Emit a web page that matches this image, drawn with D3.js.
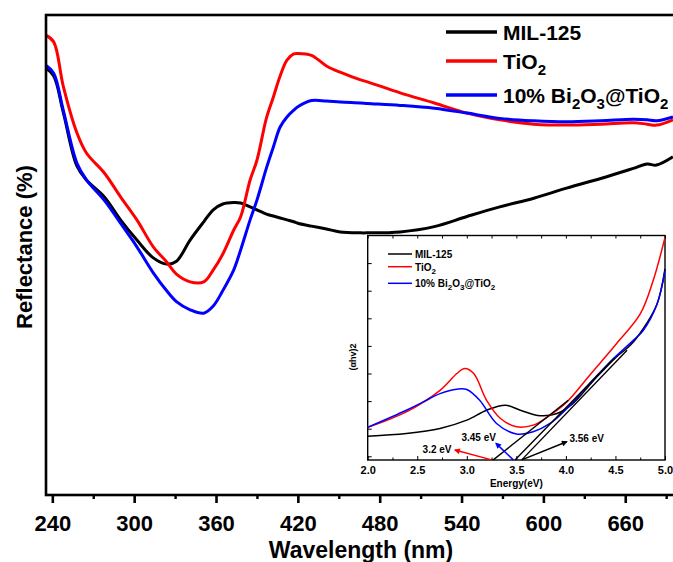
<!DOCTYPE html>
<html>
<head>
<meta charset="utf-8">
<script src="https://cdn.jsdelivr.net/npm/d3@7"></script>
<style>
  body { margin: 0; background: #fff; }
  text { font-family: "Liberation Sans", Arial, sans-serif; font-weight: bold; fill: #000; }
</style>
</head>
<body>
<div id="d3-container"></div>
<script>
// Main chart data (reflectance, arbitrary units)
const wavelength = [235, 241, 248, 258, 265, 278, 290, 302, 314, 324, 331, 341, 351, 358, 365, 373, 378, 385, 390, 397,
  402, 407, 412, 417, 420, 430, 441, 451, 466, 471, 495, 520, 544, 568, 593, 617, 642, 666, 676, 683, 695];
const milRefl = [88.8, 87.1, 79.6, 68.4, 65.5, 62.0, 57.2, 53.0, 49.3, 48.0, 48.6, 53.0, 56.8, 59.3, 60.5, 60.8, 60.7, 59.9, 59.3, 58.4,
  58.0, 57.6, 57.2, 56.8, 56.5, 55.9, 55.3, 54.7, 54.5, 54.5, 54.7, 55.8, 57.9, 59.9, 61.7, 63.8, 65.8, 67.9, 68.8, 68.6, 70.3];
const tio2Refl = [95.6, 94.2, 85.0, 75.3, 71.1, 67.0, 62.0, 57.2, 51.6, 48.4, 45.9, 44.3, 44.3, 46.8, 50.1, 55.1, 57.8, 65.5, 69.6, 78.4,
  82.7, 87.1, 90.4, 91.7, 91.8, 91.4, 89.2, 87.9, 86.3, 85.9, 83.6, 81.5, 79.4, 78.0, 77.1, 76.9, 77.1, 77.4, 77.1, 76.9, 78.0];
const biRefl = [89.4, 87.7, 80.0, 69.0, 65.5, 61.3, 56.5, 51.6, 46.2, 42.4, 40.2, 38.5, 37.8, 39.3, 42.5, 46.8, 50.9, 57.2, 61.3, 68.0,
  72.3, 76.5, 78.6, 80.0, 80.7, 82.0, 81.9, 81.7, 81.5, 81.4, 81.0, 80.4, 79.4, 78.3, 77.8, 77.6, 77.8, 78.1, 78.0, 77.8, 78.6];
const xTicks = [240, 300, 360, 420, 480, 540, 600, 660];
const xMinorTicks = [270, 330, 390, 450, 510, 570, 630, 690];

// Inset data: (ahv)^2 vs energy
const milEnergy = [2.00, 2.39, 2.73, 3.00, 3.20, 3.39, 3.54, 3.74, 3.91, 4.07, 4.28, 4.51, 4.65, 4.78, 4.92, 5.00];
const milAbs = [0.73, 0.83, 1.01, 1.31, 1.67, 1.85, 1.67, 1.47, 1.55, 1.91, 2.75, 3.60, 4.02, 4.62, 5.52, 6.79];
const tio2Energy = [2.00, 2.39, 2.73, 2.90, 2.98, 3.07, 3.20, 3.34, 3.50, 3.67, 3.84, 4.01, 4.24, 4.51, 4.75, 4.88, 5.00];
const tio2Abs = [1.05, 1.61, 2.39, 3.00, 3.18, 3.00, 2.03, 1.37, 1.07, 1.13, 1.49, 1.97, 2.94, 4.08, 5.16, 6.36, 7.93];
const biEnergy = [2.00, 2.39, 2.56, 2.73, 2.90, 3.00, 3.13, 3.30, 3.50, 3.67, 3.84, 4.01, 4.24, 4.48, 4.68, 4.78, 4.92, 5.00];
const biAbs = [1.05, 1.67, 1.97, 2.27, 2.43, 2.42, 2.03, 1.19, 0.81, 0.89, 1.19, 1.73, 2.64, 3.54, 4.20, 4.56, 5.52, 6.73];
const insetXTicks = [2.0, 2.5, 3.0, 3.5, 4.0, 4.5, 5.0];
const insetYTicks = [0, 1, 2, 3, 4, 5, 6, 7];

// Tangent lines and band gap annotations
const tangents = [
  { x1: 3.267, y1: -0.13, x2: 4.024, y2: 2.03 },
  { x1: 3.486, y1: -0.13, x2: 4.495, y2: 3.58 },
  { x1: 3.554, y1: -0.13, x2: 4.617, y2: 3.84 }
];
const gapLabels = ["3.2 eV", "3.45 eV", "3.56 eV"];
const gapArrows = [
  { x1: 3.251, y1: -0.13, x2: 2.881, y2: 0.227, color: "#ff0000", tx: 2.70, ty: 0.26 },
  { x1: 3.469, y1: -0.13, x2: 3.295, y2: 0.469, color: "#0000ff", tx: 3.12, ty: 0.70 },
  { x1: 3.554, y1: -0.13, x2: 4.008, y2: 0.527, color: "#000000", tx: 4.21, ty: 0.66 }
];

const width = 673;
const height = 562;

const svg = d3
  .select("#d3-container")
  .append("svg")
  .attr("width", width)
  .attr("height", height);

const defs = svg.append("defs");
["#ff0000", "#0000ff", "#000000"].forEach((c, i) => {
  defs.append("marker")
    .attr("id", "arrow" + i)
    .attr("viewBox", "0 0 10 10")
    .attr("refX", 8)
    .attr("refY", 5)
    .attr("markerWidth", 7)
    .attr("markerHeight", 6)
    .attr("markerUnits", "userSpaceOnUse")
    .attr("orient", "auto")
    .append("path")
    .attr("d", "M0,0 L10,5 L0,10 Z")
    .attr("fill", c);
});

// Main scales
const xScale = d3.scaleLinear().domain([235, 700]).range([45.5, 679.8]);
const yScale = d3.scaleLinear().domain([0, 100]).range([495, 14]);

const series = [
  { name: "MIL-125", values: milRefl, color: "#000000" },
  { name: "TiO2", values: tio2Refl, color: "#ff0000" },
  { name: "Bi", values: biRefl, color: "#0000ff" }
];

const line = d3.line()
  .x((d) => xScale(d[0]))
  .y((d) => yScale(d[1]))
  .curve(d3.curveCatmullRom.alpha(0.5));

svg.selectAll(".main-line")
  .data(series)
  .enter()
  .append("path")
  .attr("class", "main-line")
  .attr("fill", "none")
  .attr("stroke", (d) => d.color)
  .attr("stroke-width", 3)
  .attr("stroke-linejoin", "round")
  .attr("d", (d) => line(wavelength.map((w, i) => [w, d.values[i]])));

// Frame
svg.append("rect")
  .attr("x", 46)
  .attr("y", 15)
  .attr("width", 640)
  .attr("height", 480)
  .attr("fill", "none")
  .attr("stroke", "#000")
  .attr("stroke-width", 2.6);

// X axis (major + minor)
const xAxis = svg.append("g")
  .attr("transform", `translate(0, 495)`)
  .call(d3.axisBottom(xScale).tickValues(xTicks).tickSize(8).tickPadding(12).tickFormat(d3.format("d")));
xAxis.select(".domain").remove();
xAxis.selectAll("line").attr("stroke-width", 2.6);
xAxis.selectAll("text").style("font-size", "22px").attr("fill", "#000");

const xMinor = svg.append("g")
  .attr("transform", `translate(0, 495)`)
  .call(d3.axisBottom(xScale).tickValues(xMinorTicks).tickSize(4).tickFormat(""));
xMinor.select(".domain").remove();
xMinor.selectAll("line").attr("stroke-width", 2.4);

// Axis titles
svg.append("text")
  .attr("x", 361)
  .attr("y", 558)
  .attr("text-anchor", "middle")
  .style("font-size", "23px")
  .text("Wavelength (nm)");

svg.append("text")
  .attr("transform", "translate(32, 247) rotate(-90)")
  .attr("text-anchor", "middle")
  .style("font-size", "22px")
  .text("Reflectance (%)");

// Main legend
const legendData = [
  { parts: [["MIL-125", false]], color: "#000000", y: 32 },
  { parts: [["TiO", false], ["2", true]], color: "#ff0000", y: 61 },
  { parts: [["10% Bi", false], ["2", true], ["O", false], ["3", true], ["@TiO", false], ["2", true]], color: "#0000ff", y: 95 }
];

function addRichText(sel, parts, size, subSize, subShift) {
  parts.forEach(([t, sub], i) => {
    const ts = sel.append("tspan").text(t);
    if (sub) {
      ts.style("font-size", subSize + "px").attr("dy", subShift);
    } else {
      ts.style("font-size", size + "px");
      if (i > 0 && parts[i - 1][1]) ts.attr("dy", -subShift);
    }
  });
}

const legend = svg.append("g").attr("class", "legend-text");
legendData.forEach((d) => {
  legend.append("line")
    .attr("x1", 446).attr("x2", 497)
    .attr("y1", d.y).attr("y2", d.y)
    .attr("stroke", d.color)
    .attr("stroke-width", 3.5);
  const t = legend.append("text")
    .attr("x", 503)
    .attr("y", d.y + 8);
  addRichText(t, d.parts, 21, 15, 6);
});

// ---------- Inset ----------
const ix = d3.scaleLinear().domain([2.0, 5.0]).range([367.7, 665]);
const iy = d3.scaleLinear().domain([-0.134, 8]).range([460, 235.5]);

svg.append("rect")
  .attr("x", 367.7)
  .attr("y", 235.5)
  .attr("width", 665 - 367.7)
  .attr("height", 460 - 235.5)
  .attr("fill", "#fff")
  .attr("stroke", "#000")
  .attr("stroke-width", 1.4);

const insetSeries = [
  { e: milEnergy, v: milAbs, color: "#000000" },
  { e: tio2Energy, v: tio2Abs, color: "#ff0000" },
  { e: biEnergy, v: biAbs, color: "#0000ff" }
];

const iLine = d3.line()
  .x((d) => ix(d[0]))
  .y((d) => iy(d[1]))
  .curve(d3.curveCatmullRom.alpha(0.5));

svg.selectAll(".inset-line")
  .data(insetSeries)
  .enter()
  .append("path")
  .attr("class", "inset-line")
  .attr("fill", "none")
  .attr("stroke", (d) => d.color)
  .attr("stroke-width", 1.5)
  .attr("d", (d) => iLine(d.e.map((e, i) => [e, d.v[i]])));

// Tangent lines
svg.selectAll(".tangent")
  .data(tangents)
  .enter()
  .append("line")
  .attr("class", "tangent")
  .attr("x1", (d) => ix(d.x1)).attr("y1", (d) => iy(d.y1))
  .attr("x2", (d) => ix(d.x2)).attr("y2", (d) => iy(d.y2))
  .attr("stroke", "#000")
  .attr("stroke-width", 1.4);

// Arrows + labels
gapArrows.forEach((d, i) => {
  svg.append("line")
    .attr("x1", ix(d.x1)).attr("y1", iy(d.y1))
    .attr("x2", ix(d.x2)).attr("y2", iy(d.y2))
    .attr("stroke", d.color)
    .attr("stroke-width", 1.5)
    .attr("marker-end", `url(#arrow${i})`);
  svg.append("text")
    .attr("x", ix(d.tx))
    .attr("y", iy(d.ty) + 4)
    .attr("text-anchor", "middle")
    .style("font-size", "10px")
    .text(gapLabels[i]);
});

// Inset axes
const iBottom = svg.append("g")
  .attr("transform", "translate(0, 460)")
  .call(d3.axisBottom(ix).tickValues(insetXTicks).tickSize(-4).tickPadding(6).tickFormat(d3.format(".1f")));
iBottom.select(".domain").remove();
iBottom.selectAll("text").style("font-size", "11px").attr("fill", "#000");

const iBottomMinor = svg.append("g")
  .attr("transform", "translate(0, 460)")
  .call(d3.axisBottom(ix).tickValues(d3.range(2.25, 5, 0.5)).tickSize(-2.5).tickFormat(""));
iBottomMinor.select(".domain").remove();

const iTop = svg.append("g")
  .attr("transform", "translate(0, 235.5)")
  .call(d3.axisTop(ix).tickValues(d3.range(2.0, 5.01, 0.25)).tickSize(-3).tickFormat(""));
iTop.select(".domain").remove();

const iLeft = svg.append("g")
  .attr("transform", "translate(367.7, 0)")
  .call(d3.axisLeft(iy).tickValues(insetYTicks).tickSize(-4).tickFormat(""));
iLeft.select(".domain").remove();

svg.append("text")
  .attr("x", ix(3.5))
  .attr("y", 487)
  .attr("text-anchor", "middle")
  .style("font-size", "10px")
  .text("Energy(eV)");

svg.append("text")
  .attr("transform", "translate(356, 357) rotate(-90)")
  .attr("text-anchor", "middle")
  .style("font-size", "9px")
  .text("(αhv)2");

// Inset legend
const insetLegend = [
  { parts: [["MIL-125", false]], color: "#000000", y: 254 },
  { parts: [["TiO", false], ["2", true]], color: "#ff0000", y: 266.7 },
  { parts: [["10% Bi", false], ["2", true], ["O", false], ["3", true], ["@TiO", false], ["2", true]], color: "#0000ff", y: 283.3 }
];
insetLegend.forEach((d) => {
  svg.append("line")
    .attr("x1", 388).attr("x2", 412)
    .attr("y1", d.y).attr("y2", d.y)
    .attr("stroke", d.color)
    .attr("stroke-width", 1.5);
  const t = svg.append("text")
    .attr("x", 415)
    .attr("y", d.y + 3.8);
  addRichText(t, d.parts, 10, 8, 3);
});
</script>
</body>
</html>
